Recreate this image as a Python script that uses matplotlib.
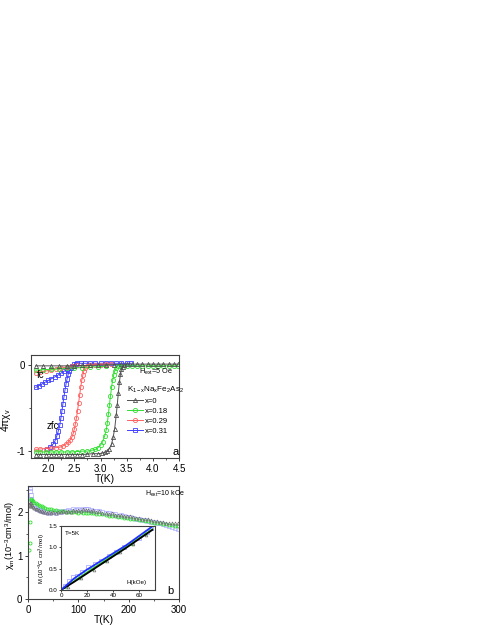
import numpy as np
import matplotlib
matplotlib.use("Agg")
import matplotlib.pyplot as plt
from matplotlib.lines import Line2D

plt.rcParams['font.family'] = ['Liberation Sans', 'DejaVu Sans']
plt.rcParams['mathtext.fontset'] = 'custom'
plt.rcParams['mathtext.rm'] = 'Liberation Sans'
plt.rcParams['mathtext.it'] = 'Liberation Sans:italic'

# ---- panel a : 4*pi*chi_v vs T (zfc and fc) ----
T_zfc0 = [1.76, 1.85, 1.95, 2.05, 2.15, 2.25, 2.35, 2.45, 2.55, 2.65, 2.75, 2.85, 2.95,
          3.02, 3.08, 3.13, 3.17, 3.21, 3.24, 3.27, 3.30, 3.32, 3.34, 3.36, 3.38, 3.40,
          3.42, 3.45, 3.50, 3.60, 3.70, 3.80, 3.90, 4.00, 4.10, 4.20, 4.30, 4.40, 4.48]
chi_zfc0 = [-1.04, -1.04, -1.04, -1.04, -1.04, -1.04, -1.04, -1.04, -1.04, -1.04, -1.035, -1.03, -1.03,
            -1.025, -1.015, -1.0, -0.97, -0.92, -0.84, -0.74, -0.58, -0.46, -0.32, -0.20, -0.11, -0.05,
            -0.02, 0.0, 0.01, 0.01, 0.01, 0.01, 0.01, 0.01, 0.01, 0.01, 0.01, 0.01, 0.01]
T_fc0 = [1.76, 1.90, 2.05, 2.20, 2.35, 2.50, 2.65, 2.80, 2.95, 3.10, 3.25, 3.40]
chi_fc0 = [-0.01, -0.01, -0.01, -0.01, -0.01, -0.01, -0.005, -0.005, 0.0, 0.0, 0.005, 0.01]

T_zfc18 = [1.76, 1.85, 1.95, 2.05, 2.15, 2.25, 2.35, 2.45, 2.55, 2.65, 2.75, 2.83, 2.90, 2.95,
           3.00, 3.04, 3.08, 3.11, 3.13, 3.15, 3.17, 3.19, 3.21, 3.23, 3.25, 3.27, 3.30, 3.34,
           3.40, 3.50, 3.60, 3.70, 3.80, 3.90, 4.00, 4.10, 4.20, 4.30, 4.40, 4.48]
chi_zfc18 = [-1.01, -1.01, -1.01, -1.01, -1.01, -1.01, -1.01, -1.01, -1.005, -1.0, -1.0, -0.99, -0.98, -0.96,
             -0.93, -0.89, -0.82, -0.75, -0.67, -0.57, -0.46, -0.36, -0.26, -0.18, -0.12, -0.07, -0.03, -0.01,
             -0.01, -0.01, -0.01, -0.01, -0.01, -0.01, -0.01, -0.01, -0.01, -0.01, -0.01, -0.01]
T_fc18 = [1.76, 1.90, 2.05, 2.20, 2.35, 2.50, 2.65, 2.80, 2.95, 3.10]
chi_fc18 = [-0.06, -0.055, -0.05, -0.045, -0.04, -0.035, -0.03, -0.025, -0.02, -0.015]

T_zfc29 = [1.76, 1.85, 1.95, 2.05, 2.15, 2.22, 2.28, 2.33, 2.38, 2.42, 2.45, 2.48, 2.50, 2.52,
           2.54, 2.56, 2.58, 2.60, 2.62, 2.64, 2.66, 2.68, 2.71, 2.75, 2.80, 2.90, 3.00, 3.10, 3.20]
chi_zfc29 = [-0.98, -0.975, -0.97, -0.965, -0.96, -0.955, -0.94, -0.92, -0.90, -0.87, -0.84, -0.79, -0.74, -0.68,
             -0.61, -0.53, -0.44, -0.35, -0.26, -0.18, -0.12, -0.07, -0.03, -0.01, 0.0, 0.005, 0.005, 0.01, 0.01]
T_fc29 = [1.76, 1.85, 1.95, 2.05, 2.15, 2.25, 2.35, 2.45, 2.55]
chi_fc29 = [-0.09, -0.08, -0.07, -0.06, -0.045, -0.035, -0.025, -0.015, -0.005]

T_zfc31 = [1.98, 2.04, 2.09, 2.13, 2.16, 2.19, 2.22, 2.24, 2.26, 2.28, 2.30, 2.32, 2.34, 2.36,
           2.38, 2.40, 2.43, 2.46, 2.50, 2.55, 2.62, 2.70, 2.80, 2.90, 3.00, 3.10, 3.20, 3.30, 3.40, 3.50, 3.58]
chi_zfc31 = [-0.97, -0.95, -0.92, -0.88, -0.83, -0.77, -0.70, -0.62, -0.54, -0.45, -0.37, -0.29, -0.22, -0.16,
             -0.11, -0.07, -0.04, -0.01, 0.01, 0.02, 0.02, 0.02, 0.02, 0.02, 0.02, 0.02, 0.02, 0.02, 0.02, 0.02, 0.02]
T_fc31 = [1.76, 1.82, 1.88, 1.94, 2.00, 2.06, 2.12, 2.18, 2.24, 2.30, 2.36, 2.42, 2.48, 2.54]
chi_fc31 = [-0.26, -0.24, -0.22, -0.20, -0.18, -0.16, -0.14, -0.12, -0.095, -0.075, -0.05, -0.03, -0.01, 0.01]

# ---- panel b : chi_m vs T at 10 kOe ----
T_b = [2, 3, 4, 5, 6, 8, 10, 12, 15, 18, 21, 24, 27, 30, 34, 38, 42, 46, 50, 55, 60, 65, 70, 75,
       80, 85, 90, 95, 100, 105, 110, 115, 120, 125, 130, 136, 142, 148, 154, 160, 166, 172, 178,
       184, 190, 196, 202, 208, 214, 220, 226, 232, 238, 244, 250, 256, 262, 268, 274, 280, 286, 292, 298]
chi_b0 = [2.18, 2.20, 2.15, 2.22, 2.14, 2.17, 2.12, 2.10, 2.08, 2.06, 2.05, 2.03, 2.02, 2.00, 2.01, 1.99,
          2.00, 1.98, 2.00, 1.99, 2.01, 2.00, 2.02, 2.00, 2.03, 2.01, 2.04, 2.02, 2.05, 2.03, 2.06, 2.04,
          2.05, 2.03, 2.04, 2.01, 2.02, 1.99, 1.98, 1.96, 1.97, 1.94, 1.93, 1.94, 1.91, 1.90, 1.90, 1.88,
          1.87, 1.86, 1.85, 1.83, 1.83, 1.81, 1.80, 1.79, 1.78, 1.77, 1.76, 1.76, 1.75, 1.74, 1.74]
chi_b18 = [1.12, 1.29, 1.78, 2.28, 2.30, 2.27, 2.25, 2.22, 2.20, 2.18, 2.16, 2.14, 2.13, 2.11, 2.10, 2.08,
           2.07, 2.06, 2.05, 2.04, 2.03, 2.03, 2.02, 2.01, 2.01, 2.00, 2.00, 2.00, 1.99, 2.00, 1.99, 1.99,
           1.98, 1.98, 1.97, 1.96, 1.95, 1.95, 1.93, 1.92, 1.91, 1.90, 1.89, 1.88, 1.87, 1.86, 1.85, 1.84,
           1.83, 1.82, 1.81, 1.80, 1.79, 1.77, 1.76, 1.75, 1.74, 1.73, 1.72, 1.71, 1.70, 1.69, 1.67]
chi_b31 = [2.62, 2.55, 2.48, 2.40, 2.30, 2.24, 2.18, 2.14, 2.10, 2.08, 2.05, 2.04, 2.02, 2.02, 2.00, 2.01,
           1.99, 2.00, 2.01, 1.99, 2.02, 2.01, 2.03, 2.02, 2.04, 2.03, 2.06, 2.04, 2.07, 2.05, 2.07, 2.06,
           2.08, 2.05, 2.03, 2.02, 2.03, 2.00, 1.98, 1.97, 1.95, 1.96, 1.92, 1.93, 1.90, 1.88, 1.89, 1.86,
           1.85, 1.84, 1.82, 1.81, 1.80, 1.78, 1.77, 1.75, 1.74, 1.72, 1.70, 1.68, 1.66, 1.64, 1.61]

# ---- inset : M vs H at 5 K ----
H_fit = [0, 10, 20, 30, 40, 50, 60, 70]
M_fit0 = [0, 0.19, 0.39, 0.59, 0.79, 0.99, 1.20, 1.41]
M_fit18 = [0, 0.21, 0.42, 0.62, 0.82, 1.02, 1.22, 1.43]
M_fit31 = [0, 0.27, 0.48, 0.67, 0.86, 1.05, 1.27, 1.49]
H_pts31 = [3, 6, 9, 12, 16, 21, 26, 31, 37, 42, 48, 54, 60, 66, 69]
M_pts31 = [0.10, 0.20, 0.30, 0.33, 0.42, 0.55, 0.60, 0.68, 0.80, 0.90, 1.00, 1.10, 1.21, 1.37, 1.45]
H_pts0 = [5, 15, 25, 35, 45, 55, 65]
M_pts0 = [0.08, 0.29, 0.48, 0.68, 0.88, 1.08, 1.30]
H_pts18 = [4, 14, 24, 34, 44, 54, 64]
M_pts18 = [0.07, 0.28, 0.49, 0.68, 0.88, 1.08, 1.31]

c0, c18, c29, c31 = '#505050', '#30e030', '#ff6060', '#4040ff'
c31_light = '#9a9aff'

W, H = 483, 625
fig = plt.figure(figsize=(W / 100, H / 100), dpi=100)


def style_axes(ax, fs=7):
    for s in ax.spines.values():
        s.set_linewidth(0.8)
        s.set_color('#404040')
    ax.tick_params(which='both', direction='out', top=False, right=False,
                   labelsize=fs, pad=1.5, color='#404040')
    ax.tick_params(which='major', length=2.5, width=0.7)
    ax.tick_params(which='minor', length=1.5, width=0.6)


# panel a
ax1 = fig.add_axes([31 / W, 1 - 458 / H, 148 / W, 103 / H])
mk = dict(markersize=3, markerfacecolor='none', markeredgewidth=0.6, linewidth=0.7)
ax1.plot(T_zfc31, chi_zfc31, '-s', color=c31, **mk)
ax1.plot(T_fc31, chi_fc31, '-s', color=c31, **mk)
ax1.plot(T_zfc29, chi_zfc29, '-o', color=c29, **mk)
ax1.plot(T_fc29, chi_fc29, '-o', color=c29, **mk)
ax1.plot(T_zfc18, chi_zfc18, '-o', color=c18, **mk)
ax1.plot(T_fc18, chi_fc18, '-o', color=c18, **mk)
ax1.plot(T_zfc0, chi_zfc0, '-^', color=c0, **mk)
ax1.plot(T_fc0, chi_fc0, '-^', color=c0, **mk)
ax1.set_xlim(1.67, 4.5)
ax1.set_ylim(-1.08, 0.116)
ax1.set_xticks([2.0, 2.5, 3.0, 3.5, 4.0, 4.5])
ax1.set_xticks([2.25, 2.75, 3.25, 3.75, 4.25], minor=True)
ax1.set_yticks([-1, 0])
ax1.set_yticklabels(['-1', '0'])
ax1.set_yticks([-0.5], minor=True)
style_axes(ax1)
ax1.set_xlabel('T(K)', fontsize=7.5, labelpad=0.5)
ax1.set_ylabel('4πχ$_\\mathregular{v}$', fontsize=7.5)
ax1.yaxis.set_label_coords(-0.125, 0.37)
ax1.text(1.79, -0.15, 'fc', fontsize=7)
ax1.text(1.97, -0.74, 'zfc', fontsize=7)
ax1.text(4.38, -1.045, 'a', fontsize=8)
ax1.text(3.73, -0.085, 'H$_\\mathregular{ext}$=5 Oe', fontsize=5.3, va='center')
handles = [Line2D([], [], color=c, marker=m, **mk) for c, m in
           [(c0, '^'), (c18, 'o'), (c29, 'o'), (c31, 's')]]
leg = ax1.legend(handles, ['x=0', 'x=0.18', 'x=0.29', 'x=0.31'],
                 title='K$_\\mathregular{1-x}$Na$_\\mathregular{x}$Fe$_\\mathregular{2}$As$_\\mathregular{2}$',
                 loc='upper left', bbox_to_anchor=(0.62, 0.76), frameon=False,
                 fontsize=5.5, title_fontsize=5.8, handlelength=2.0, handletextpad=0.3,
                 labelspacing=0.35, borderpad=0.1)
leg._legend_box.align = 'left'

# panel b
ax2 = fig.add_axes([28 / W, 26 / H, 151 / W, 113 / H])
ax2.plot(T_b, chi_b31, 's', color=c31_light, markersize=2.2, markerfacecolor='none',
         markeredgewidth=0.5, alpha=0.8)
ax2.plot(T_b, chi_b18, 'o', color=c18, markersize=2.2, markerfacecolor='none', markeredgewidth=0.6)
ax2.plot(T_b, chi_b0, '^', color='#707070', markersize=2.2, markerfacecolor='none', markeredgewidth=0.5)
ax2.set_xlim(0, 300)
ax2.set_ylim(0, 2.6)
ax2.set_xticks([0, 100, 200, 300])
ax2.set_xticks([50, 150, 250], minor=True)
ax2.set_yticks([0, 1, 2])
ax2.set_yticks([0.5, 1.5, 2.5], minor=True)
style_axes(ax2)
ax2.set_xlabel('T(K)', fontsize=7.5, labelpad=0.5)
ax2.set_ylabel('χ$_\\mathregular{m}$(10$^\\mathregular{-3}$cm$^\\mathregular{3}$/mol)', fontsize=6.6)
ax2.yaxis.set_label_coords(-0.075, 0.56)
ax2.text(233, 2.42, 'H$_\\mathregular{ext}$=10 kOe', fontsize=5.0, va='center')
ax2.text(277, 0.12, 'b', fontsize=8)

# inset
ax3 = fig.add_axes([61 / W, 35 / H, 94 / W, 64 / H])
ax3.plot(H_pts31, M_pts31, 's', color=c31_light, markersize=2.2, markerfacecolor='none', markeredgewidth=0.5)
ax3.plot(H_pts18, M_pts18, 'o', color=c18, markersize=2, markerfacecolor='none', markeredgewidth=0.5)
ax3.plot(H_pts0, M_pts0, '^', color='#707070', markersize=2, markerfacecolor='none', markeredgewidth=0.5)
ax3.plot(H_fit, M_fit18, '-', color=c18, linewidth=1.0)
ax3.plot(H_fit, M_fit0, '-', color='black', linewidth=1.3)
ax3.plot(H_fit, M_fit31, '-', color='#2030ff', linewidth=1.3)
ax3.set_xlim(0, 72)
ax3.set_ylim(0, 1.5)
ax3.set_xticks([0, 20, 40, 60])
ax3.set_yticks([0.0, 0.5, 1.0, 1.5])
style_axes(ax3, fs=4.5)
ax3.tick_params(which='major', length=1.5, pad=1)
ax3.set_ylabel('M (10$^\\mathregular{-3}$G cm$^\\mathregular{3}$/mol)', fontsize=4.2, labelpad=1.5)
ax3.text(3, 1.3, 'T=5K', fontsize=4.5)
ax3.text(50, 0.14, 'H(kOe)', fontsize=4.5)

fig.savefig('out.png', dpi=100)
